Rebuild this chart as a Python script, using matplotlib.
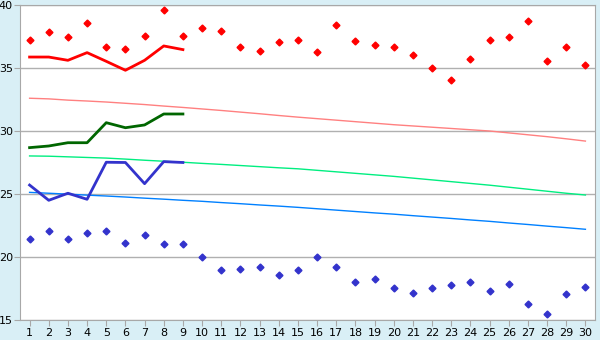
import matplotlib.pyplot as plt

days = list(range(1, 31))

# daily max / min (points)
tmax = [37.2, 37.83, 37.43, 38.55, 36.64, 36.48, 37.51, 39.58, 37.51, 38.15,
        37.91, 36.64, 36.32, 37.04, 37.2, 36.24, 38.39, 37.12, 36.8, 36.64,
        36.0, 34.98, 34.02, 35.69, 37.2, 37.43, 38.7, 35.53, 36.64, 35.21]
tmin = [21.4, 22.04, 21.4, 21.88, 22.04, 21.09, 21.72, 21.01, 21.01, 20.0,
        18.94, 19.02, 19.18, 18.55, 18.94, 20.0, 19.18, 17.99, 18.23, 17.52,
        17.12, 17.52, 17.75, 17.99, 17.28, 17.83, 16.25, 15.45, 17.04, 17.6]

# observed lines (days 1-9)
obs_days = days[:9]
obs_max = [35.87, 35.87, 35.61, 36.22, 35.53, 34.82, 35.61, 36.75, 36.46]
obs_mean = [28.68, 28.81, 29.07, 29.07, 30.66, 30.26, 30.48, 31.35, 31.35]
obs_min = [25.71, 24.5, 25.06, 24.58, 27.52, 27.5, 25.82, 27.57, 27.5]

# normal curves
norm_max = [32.6, 32.55, 32.45, 32.38, 32.3, 32.2, 32.1, 31.98, 31.87, 31.75,
            31.63, 31.5, 31.37, 31.23, 31.1, 30.98, 30.86, 30.74, 30.62, 30.5,
            30.4, 30.3, 30.2, 30.1, 30.0, 29.85, 29.7, 29.55, 29.38, 29.2]
norm_mean = [28.02, 28.0, 27.95, 27.9, 27.85, 27.77, 27.68, 27.6, 27.52, 27.43,
             27.35, 27.26, 27.17, 27.08, 27.0, 26.88, 26.76, 26.64, 26.52, 26.4,
             26.26, 26.12, 25.98, 25.84, 25.7, 25.54, 25.38, 25.22, 25.06, 24.92]
norm_min = [25.13, 25.06, 24.99, 24.91, 24.84, 24.76, 24.67, 24.59, 24.5, 24.42,
            24.32, 24.23, 24.13, 24.04, 23.94, 23.83, 23.72, 23.61, 23.5, 23.4,
            23.28, 23.17, 23.06, 22.94, 22.83, 22.7, 22.58, 22.45, 22.33, 22.2]

fig = plt.figure(figsize=(6, 3.4), dpi=100, facecolor='#d9eff6')
ax = fig.add_axes([20/600, 20/340, 575/600, 315/340])
ax.set_facecolor('white')

ax.plot(days, norm_max, color='#ff8080', lw=1)
ax.plot(days, norm_mean, color='#00ee80', lw=1)
ax.plot(days, norm_min, color='#0080ff', lw=1)

ax.plot(obs_days, obs_max, color='#ff0000', lw=2)
ax.plot(obs_days, obs_mean, color='#006600', lw=2)
ax.plot(obs_days, obs_min, color='#3333cc', lw=2)

ax.plot(days, tmax, 'D', color='#ff0000', ms=3.5, ls='none')
ax.plot(days, tmin, 'D', color='#3333cc', ms=3.5, ls='none')

ax.set_xlim(0.5, 30.5)
ax.set_ylim(15, 40)
ax.set_xticks(days)
ax.set_yticks([15, 20, 25, 30, 35, 40])
ax.yaxis.grid(True, color='#b0b0b0', lw=1)
ax.set_axisbelow(True)
for s in ax.spines.values():
    s.set_color('#a8a8a8')
ax.tick_params(colors='#a8a8a8', labelcolor='black', labelsize=8, length=4, pad=2)
ax.tick_params(axis='y', pad=1)

fig.savefig('out.png', dpi=100, facecolor=fig.get_facecolor())
